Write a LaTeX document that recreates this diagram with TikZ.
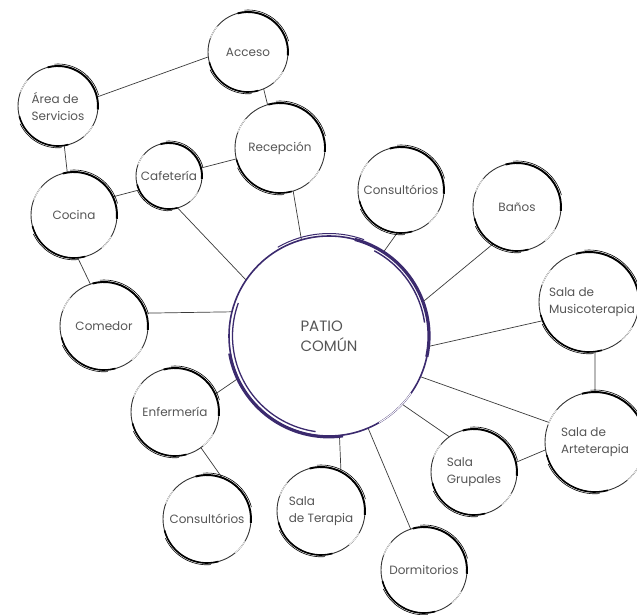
\documentclass[tikz,border=0pt]{standalone}
\usepackage{fontspec}
\setmainfont{Poppins}
\usepackage{tikz}
\usetikzlibrary{calc}
\definecolor{PatioPurple}{HTML}{3B2A6E}
\definecolor{LabelGray}{HTML}{555555}
\definecolor{LinkGray}{HTML}{3A3A3A}

% hand-drawn looking ring around a circular node
\newcommand{\brushring}[2]{%
  \draw[black!80, line width=0.9pt] (#1.center) circle[radius=#2];
  \draw[black, line width=1.9pt] ([shift={(-5:#2)}]#1.center) arc[start angle=-5, end angle=105, radius=#2];
  \draw[black, line width=1.6pt] ([shift={(195:#2)}]#1.center) arc[start angle=195, end angle=285, radius=#2];
  \draw[black, line width=0.6pt] ([shift={(15:#2+2)}]#1.center) arc[start angle=15, end angle=95, radius=#2+2];
  \draw[black, line width=0.6pt] ([shift={(205:#2+1.8)}]#1.center) arc[start angle=205, end angle=275, radius=#2+1.8];
  \draw[white, line width=0.7pt] ([shift={(140:#2)}]#1.center) arc[start angle=140, end angle=160, radius=#2];
  \draw[white, line width=0.7pt] ([shift={(310:#2)}]#1.center) arc[start angle=310, end angle=330, radius=#2];
}

\begin{document}
\begin{tikzpicture}[
  x=1pt, y=1pt,
  room/.style={circle, inner sep=0pt, outer sep=0pt, minimum size=2*#1,
    align=left, text=LabelGray, font=\fontsize{12}{17}\selectfont},
  roomtext/.style={align=left, text=LabelGray, font=\fontsize{12}{17}\selectfont},
  link/.style={LinkGray, line width=0.7pt}
]
  \useasboundingbox (0,0) rectangle (637,614);

  % rooms
  \node[room=40] (acceso) at (248,562) {Acceso};
  \node[room=40] (servicios) at (58,508) {Área de\\Servicios};
  \node[room=45] (recepcion) at (280,466) {Recepción};
  \node[room=33] (cafeteria) at (169,438) {Cafetería};
  \node[room=43] (cocina) at (74,399) {Cocina};
  \node[room=44] (comedor) at (104,288) {Comedor};
  \node[room=43] (consulta) at (401,424) {Consultórios};
  \node[room=44] (banos) at (517,407) {Baños};
  \node[room=50, label={[roomtext, xshift=3pt]center:Sala de\\Musicoterapia}] (musico) at (589,312) {};
  \node[room=50] (arte) at (595,172) {Sala de\\Arteterapia};
  \node[room=43] (grupales) at (474,142) {Sala\\Grupales};
  \node[room=43] (dormitorios) at (424,44) {Dormitorios};
  \node[room=44] (terapia) at (321,103) {Sala\\de Terapia};
  \node[room=44] (consultb) at (207,95) {Consultórios};
  \node[room=44] (enfermeria) at (175,202) {Enfermería};

  \node[circle, inner sep=0pt, outer sep=0pt, minimum size=200, align=left,
    text=LabelGray, font=\fontsize{15}{20}\selectfont] (patio) at (329,278) {PATIO\\COMÚN};

  % links
  \draw[link] (servicios.13) -- (acceso.187);
  \draw[link] (acceso.-67) -- (recepcion.106);
  \draw[link] (servicios.-81) -- (cocina.99);
  \draw[link] (cocina.25) -- (cafeteria.205);
  \draw[link] (cafeteria.14) -- (recepcion.194);
  \draw[link] (cocina.-85) -- (comedor.108);
  \draw[link] (cafeteria.-75) -- (patio.146);
  \draw[link] (recepcion.-73) -- (patio.106);
  \draw[link] (comedor.17) -- (patio.166);
  \draw[link] (consulta.-95) -- (patio.57);
  \draw[link] (banos.237) -- (patio.20);
  \draw[link] (musico.202) -- (patio.-6);
  \draw[link] (musico.-83) -- (arte.90);
  \draw[link] (arte.157) -- (patio.-24);
  \draw[link] (arte.189) -- (grupales.13);
  \draw[link] (grupales.125) -- (patio.-43);
  \draw[link] (dormitorios.108) -- (patio.-67);
  \draw[link] (terapia.63) -- (patio.-84);
  \draw[link] (enfermeria.24) -- (patio.205);
  \draw[link] (enfermeria.-54) -- (consultb.70);

  % rings
  \foreach \n/\r in {acceso/40, servicios/40, recepcion/45, cafeteria/33, cocina/43,
      comedor/44, consulta/43, banos/44, musico/50, arte/50, grupales/43,
      dormitorios/43, terapia/44, consultb/44, enfermeria/44}
    {\brushring{\n}{\r}}

  % central patio ring
  \draw[PatioPurple, line width=1.6pt] (patio.center) circle[radius=100];
  \draw[PatioPurple, line width=3.2pt] ([shift={(75:100)}]patio.center) arc[start angle=75, end angle=-12, radius=100];
  \draw[PatioPurple, line width=1.4pt] ([shift={(62:96.5)}]patio.center) arc[start angle=62, end angle=8, radius=96.5];
  \draw[PatioPurple, line width=2.8pt] ([shift={(190:101)}]patio.center) arc[start angle=190, end angle=278, radius=101];
  \draw[PatioPurple, line width=1.3pt] ([shift={(160:96.5)}]patio.center) arc[start angle=160, end angle=262, radius=96.5];
  \draw[PatioPurple, line width=1pt] ([shift={(120:102.5)}]patio.center) arc[start angle=120, end angle=70, radius=102.5];
  \draw[white, line width=1pt] ([shift={(300:100)}]patio.center) arc[start angle=300, end angle=325, radius=100];
\end{tikzpicture}
\end{document}
